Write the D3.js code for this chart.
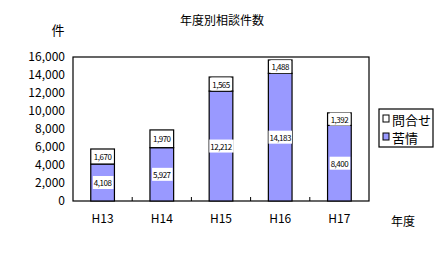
<!DOCTYPE html>
<html>
<head>
<meta charset="utf-8">
<script src="https://cdn.jsdelivr.net/npm/d3@7"></script>
<style>
  body { margin: 0; background: #fff; }
  text { font-family: "Noto Sans CJK JP", "Liberation Sans", sans-serif; fill: #000; }
</style>
</head>
<body>
<div id="chart"></div>
<script>
// data
const years = ["H13", "H14", "H15", "H16", "H17"];
const complaints = [4108, 5927, 12212, 14183, 8400];   // 苦情
const inquiries = [1670, 1970, 1565, 1488, 1392];      // 問合せ
const yTicks = [0, 2000, 4000, 6000, 8000, 10000, 12000, 14000, 16000];

const width = 444, height = 266;
const margin = {top: 57, right: 75, bottom: 65, left: 73};
const innerW = width - margin.left - margin.right;
const innerH = height - margin.top - margin.bottom;

const svg = d3.select("#chart").append("svg")
    .attr("width", width)
    .attr("height", height);

// title
svg.append("text")
    .attr("x", 222).attr("y", 25)
    .attr("text-anchor", "middle")
    .style("font-size", "12px")
    .text("年度別相談件数");

// unit label
svg.append("text")
    .attr("x", 58).attr("y", 35)
    .attr("text-anchor", "middle")
    .style("font-size", "13px")
    .text("件");

const g = svg.append("g")
    .attr("transform", `translate(${margin.left},${margin.top})`);

const x = d3.scaleBand()
    .domain(years)
    .range([0, innerW])
    .paddingInner(0.6)
    .paddingOuter(0.3);

const y = d3.scaleLinear()
    .domain([0, 16000])
    .range([innerH, 0]);

// plot frame
g.append("rect")
    .attr("x", 0).attr("y", 0)
    .attr("width", innerW).attr("height", innerH)
    .attr("fill", "none")
    .attr("stroke", "#000")
    .attr("stroke-width", 1.2);

// y axis labels
const yAxis = g.append("g")
    .call(d3.axisLeft(y).tickValues(yTicks).tickSize(0).tickPadding(8).tickFormat(d3.format(",")));
yAxis.select(".domain").remove();
yAxis.selectAll("text").style("font-size", "12px").attr("font-family", null);

// x axis ticks between categories
const step = x.step();
const tickPos = d3.range(1, years.length).map(i => i * step);
g.selectAll(".xtick")
    .data(tickPos)
    .enter().append("line")
    .attr("x1", d => d).attr("x2", d => d)
    .attr("y1", innerH).attr("y2", innerH - 4)
    .attr("stroke", "#000");

g.selectAll(".xlab")
    .data(years)
    .enter().append("text")
    .attr("x", d => x(d) + x.bandwidth() / 2)
    .attr("y", innerH + 22)
    .attr("text-anchor", "middle")
    .style("font-size", "12px")
    .text(d => d);

svg.append("text")
    .attr("x", 403).attr("y", 226)
    .attr("text-anchor", "middle")
    .style("font-size", "12px")
    .text("年度");

// stacked bars
const rows = years.map((yr, i) => ({year: yr, c: complaints[i], q: inquiries[i]}));

g.selectAll(".barC")
    .data(rows)
    .enter().append("rect")
    .attr("x", d => x(d.year))
    .attr("y", d => y(d.c))
    .attr("width", x.bandwidth())
    .attr("height", d => innerH - y(d.c))
    .attr("fill", "#9999FF")
    .attr("stroke", "#000")
    .attr("stroke-width", 1.2);

g.selectAll(".barQ")
    .data(rows)
    .enter().append("rect")
    .attr("x", d => x(d.year))
    .attr("y", d => y(d.c + d.q))
    .attr("width", x.bandwidth())
    .attr("height", d => y(d.c) - y(d.c + d.q))
    .attr("fill", "#fff")
    .attr("stroke", "#000")
    .attr("stroke-width", 1.2);

// value labels
const fmt = d3.format(",");
function addLabel(cx, cy, txt) {
    const t = g.append("text")
        .attr("x", cx).attr("y", cy)
        .attr("text-anchor", "middle")
        .attr("dominant-baseline", "central")
        .style("font-size", "8px")
        .style("letter-spacing", "-0.5px")
        .text(txt);
    const bb = t.node().getBBox();
    g.insert("rect", () => t.node())
        .attr("x", bb.x - 1).attr("y", bb.y - 1)
        .attr("width", bb.width + 2).attr("height", bb.height + 2)
        .attr("fill", "#fff");
}
rows.forEach(d => {
    const cx = x(d.year) + x.bandwidth() / 2;
    addLabel(cx, (y(0) + y(d.c)) / 2, fmt(d.c));
    addLabel(cx, (y(d.c) + y(d.c + d.q)) / 2, fmt(d.q));
});

// legend
const lg = svg.append("g").attr("transform", "translate(379,109)");
lg.append("rect")
    .attr("width", 54).attr("height", 38)
    .attr("fill", "#fff").attr("stroke", "#000").attr("stroke-width", 1.2);
const legendItems = [
    {name: "問合せ", color: "#fff"},
    {name: "苦情", color: "#9999FF"}
];
legendItems.forEach((it, i) => {
    lg.append("rect")
        .attr("x", 4).attr("y", 6 + i * 18)
        .attr("width", 6).attr("height", 7)
        .attr("fill", it.color).attr("stroke", "#000");
    lg.append("text")
        .attr("x", 13).attr("y", 10 + i * 18)
        .attr("dominant-baseline", "central")
        .style("font-size", "13px")
        .text(it.name);
});
</script>
</body>
</html>
